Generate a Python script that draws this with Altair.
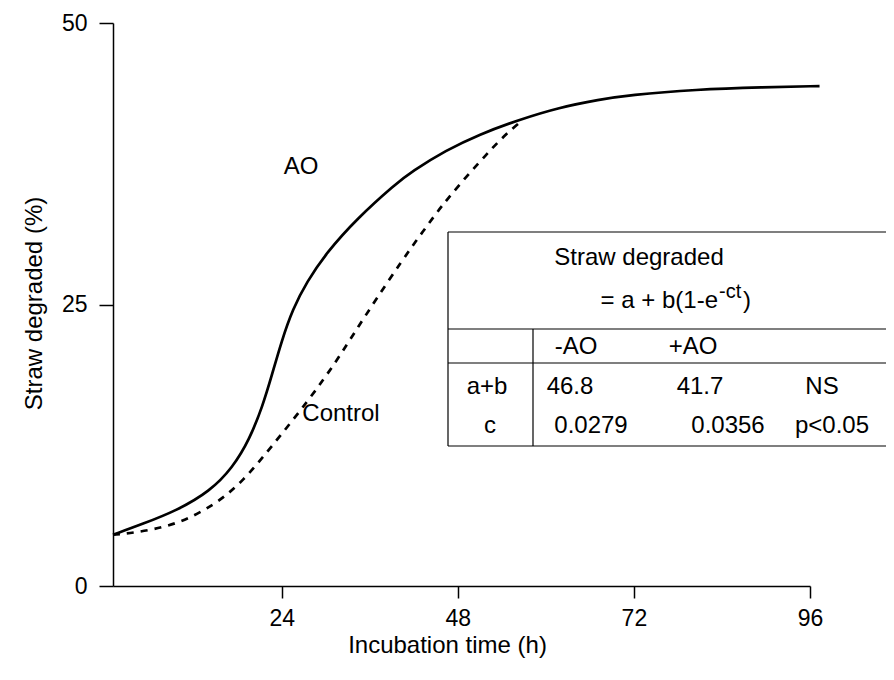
import altair as alt
import pandas as pd

# ---------------- data ----------------
ao_t = [1.0, 5.0, 9.7, 14.2, 17.3, 19.6, 21.4, 22.6, 24.0, 25.5, 27.4, 30.1, 34.2,
        39.5, 41.7, 46.4, 50.9, 56.3, 61.8, 67.3, 71.3, 80.5, 89.6, 97.3]
ao_y = [4.55, 5.5, 6.7, 8.4, 10.5, 13.0, 16.0, 18.6, 21.8, 24.6, 27.0, 29.6, 32.6,
        35.7, 36.8, 38.7, 40.1, 41.4, 42.5, 43.2, 43.6, 44.1, 44.3, 44.4]

ctrl_t = [1.0, 3.7, 9.7, 15.1, 18.7, 22.4, 27.8, 31.5, 34.2, 36.9, 40.4, 42.7, 45.4,
          46.5, 49.2, 52.0, 53.6, 55.2, 56.7]
ctrl_y = [4.55, 4.7, 5.4, 7.3, 9.3, 12.2, 16.6, 20.0, 22.8, 25.5, 28.9, 31.0, 33.4,
          34.3, 36.4, 38.4, 39.5, 40.5, 41.3]

x_ticks = [24, 48, 72, 96]
y_ticks = [0, 25, 50]

series_labels = ["AO", "Control"]
table_title = ["Straw degraded", "= a + b(1-e", "-ct", ")"]
table_head = ["-AO", "+AO"]
row_labels = ["a+b", "c"]
minus_ao = ["46.8", "0.0279"]
plus_ao = ["41.7", "0.0356"]
signif = ["NS", "p<0.05"]

# ---------------- layout (pixels, relative to plot origin) ----------------
FONT = "Liberation Sans"
FS = 24
W, H = 697, 563
TOP = 15
dy = 20 - (8 + TOP)   # shift so table keeps its page position

tbl_left, tbl_right, tbl_div = 335, 790, 420
tbl_top, tbl_l1, tbl_l2, tbl_bot = 212 + dy, 309 + dy, 343 + dy, 426 + dy
row_y = [367 + dy, 406 + dy]

ao_line = alt.Chart(pd.DataFrame({"t": ao_t, "y": ao_y})).mark_line(
    color="black", strokeWidth=2.7, interpolate="basis"
).encode(
    x=alt.X("t:Q", scale=alt.Scale(domain=[1, 96], nice=False, zero=False),
            axis=alt.Axis(title="Incubation time (h)", values=x_ticks, grid=False,
                          tickSize=12, tickWidth=1.5, tickColor="black",
                          domainColor="black", domainWidth=1.5,
                          labelFont=FONT, labelFontSize=23, labelColor="black",
                          labelPadding=9, labelFlush=False,
                          titleFont=FONT, titleFontSize=FS, titleFontWeight="normal",
                          titleColor="black", titleX=334, titleY=59,
                          titleBaseline="middle", titleAlign="center")),
    y=alt.Y("y:Q", scale=alt.Scale(domain=[0, 50], nice=False),
            axis=alt.Axis(title="Straw degraded (%)", values=y_ticks, grid=False,
                          tickSize=14, tickWidth=1.5, tickColor="black",
                          domainColor="black", domainWidth=1.5,
                          labelFont=FONT, labelFontSize=23, labelColor="black",
                          labelPadding=12, labelFlush=False,
                          titleFont=FONT, titleFontSize=FS, titleFontWeight="normal",
                          titleColor="black", titleX=-79, titleY=280,
                          titleAngle=-90, titleBaseline="middle", titleAlign="center")),
)

ctrl_line = alt.Chart(pd.DataFrame({"t": ctrl_t, "y": ctrl_y})).mark_line(
    color="black", strokeWidth=2.7, strokeDash=[7, 7], interpolate="basis"
).encode(x="t:Q", y="y:Q")

# table rules
rules = pd.DataFrame({
    "x":  [tbl_left, tbl_left, tbl_left, tbl_left, tbl_left, tbl_div],
    "x2": [tbl_right, tbl_right, tbl_right, tbl_right, tbl_left, tbl_div],
    "y":  [tbl_top, tbl_l1, tbl_l2, tbl_bot, tbl_top, tbl_l1],
    "y2": [tbl_top, tbl_l1, tbl_l2, tbl_bot, tbl_bot, tbl_bot],
})
rule_layer = alt.Chart(rules).mark_rule(color="black", strokeWidth=1.2).encode(
    x=alt.X("x:Q", scale=None, axis=None), x2="x2:Q",
    y=alt.Y("y:Q", scale=None, axis=None), y2="y2:Q",
)

texts = []
texts.append((series_labels[0], 188, 147 + dy, "center", FS))
texts.append((series_labels[1], 228, 394 + dy, "center", FS))
texts.append((table_title[0], 526, 238 + dy, "center", FS))
texts.append((table_title[1], 605, 281 + dy, "right", FS))
texts.append((table_title[2], 606, 272 + dy, "left", 20))
texts.append((table_title[3], 630, 281 + dy, "left", FS))
texts.append((table_head[0], 463, 327 + dy, "center", FS))
texts.append((table_head[1], 580, 327 + dy, "center", FS))
row_lab_x = [374, 377]
val1_x = [457, 478]
val2_x = [587, 615]
sig_x = [709, 719]
for i in range(2):
    texts.append((row_labels[i], row_lab_x[i], row_y[i], "center", FS))
    texts.append((minus_ao[i], val1_x[i], row_y[i], "center", FS))
    texts.append((plus_ao[i], val2_x[i], row_y[i], "center", FS))
    texts.append((signif[i], sig_x[i], row_y[i], "center", FS))

tdf = pd.DataFrame(texts, columns=["txt", "px", "py", "al", "fs"])
text_layers = []
for (al, fs), g in tdf.groupby(["al", "fs"]):
    text_layers.append(
        alt.Chart(g).mark_text(font=FONT, fontSize=int(fs), align=al,
                               baseline="middle", color="black").encode(
            x=alt.X("px:Q", scale=None, axis=None),
            y=alt.Y("py:Q", scale=None, axis=None),
            text="txt:N",
        )
    )

chart = alt.layer(ao_line, ctrl_line, rule_layer, *text_layers).properties(
    width=W, height=H, autosize="none",
    padding={"left": 105, "top": TOP, "right": 76, "bottom": 80},
    background="white",
).configure_view(stroke=None)

chart.save("out.html", embed_options={"renderer": "svg", "actions": False})
